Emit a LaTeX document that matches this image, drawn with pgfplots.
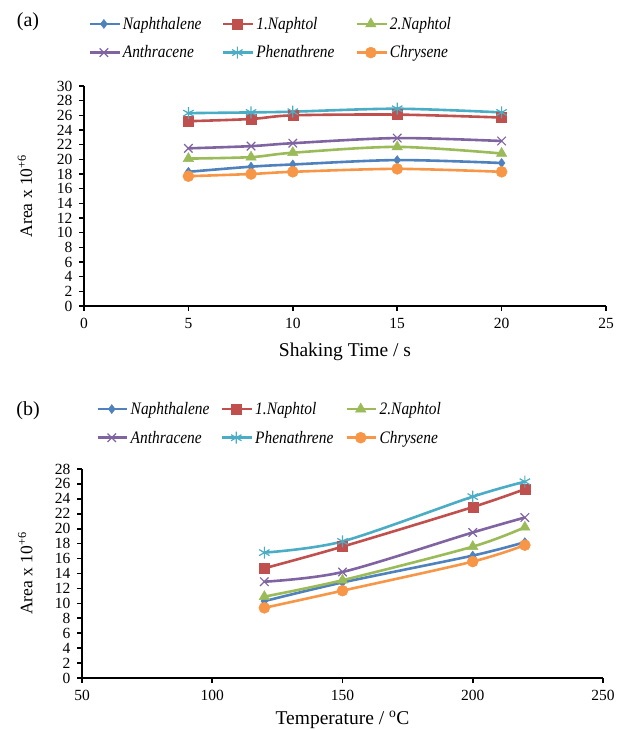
\documentclass[border=0pt]{standalone}
\usepackage{fontspec}
\setmainfont{Liberation Serif}
\newfontfamily\legfont[FakeStretch=0.88]{Liberation Serif}
\usepackage{pgfplots}
\pgfplotsset{compat=1.18}

\definecolor{cNap}{HTML}{4F81BD}
\definecolor{cOne}{HTML}{C0504D}
\definecolor{cTwo}{HTML}{9BBB59}
\definecolor{cAnt}{HTML}{8064A2}
\definecolor{cPhe}{HTML}{4BACC6}
\definecolor{cChr}{HTML}{F79646}

\pgfplotsset{
  panel/.style={
    scale only axis,
    axis x line=bottom, axis y line=left,
    axis line style={line width=2pt, -},
    tick style={line width=1.6pt, black},
    tick align=outside, major tick length=5pt,
    /pgf/number format/assume math mode=true,
    tick label style={font=\fontsize{15.5}{15.5}\selectfont},
    xticklabel style={yshift=-4pt},
    yticklabel style={xshift=-3pt},
    xlabel style={font=\fontsize{19.5}{19.5}\selectfont},
    ylabel style={font=\fontsize{17.5}{17.5}\selectfont},
    ytick distance=2,
    legend columns=3,
    legend cell align=left,
    legend style={draw=none, fill=none, inner sep=0pt,
      font=\legfont\fontsize{17.5}{20}\selectfont\itshape,
      row sep=11pt},
    legend image code/.code={\draw[mark repeat=2,mark phase=2]
      plot coordinates {(0cm,0cm)(0.5cm,0cm)(1.05cm,0cm)};},
    every axis plot/.append style={line width=2.6pt, smooth},
  },
  sNap/.style={cNap, mark=diamond*, mark size=4.5pt, mark options={solid,line width=0.5pt}},
  sOne/.style={cOne, mark=square*, mark size=5pt, mark options={solid,line width=0.5pt}},
  sTwo/.style={cTwo, mark=triangle*, mark size=6pt, mark options={solid,line width=0.5pt}},
  sAnt/.style={cAnt, mark=x, mark size=6pt, mark options={solid,line width=1.2pt}},
  sPhe/.style={cPhe, mark=asterisk, mark size=6pt, mark options={solid,line width=1.2pt}},
  sChr/.style={cChr, mark=*, mark size=5.5pt, mark options={solid,line width=0.5pt}},
}

\begin{document}
\begin{tikzpicture}
\useasboundingbox (0,0) rectangle (616pt,-730pt);
\node[font=\fontsize{20}{20}\selectfont] at (28pt,-22pt) {(a)};
\node[font=\fontsize{20}{20}\selectfont] at (28pt,-411pt) {(b)};

\begin{axis}[panel,
  at={(84pt,-306pt)}, anchor=south west,
  width=522pt, height=220pt,
  xmin=0, xmax=25, ymin=0, ymax=30,
  xtick={0,5,...,25},
  xlabel={Shaking Time / s},
  ylabel={Area x 10\textsuperscript{+6}},
  xlabel style={at={(axis description cs:0.5,-0.21)}, anchor=center},
  ylabel style={at={(axis description cs:-0.113,0.5)}, anchor=center},
  legend style={at={(axis description cs:0.008,1.323)}, anchor=north west,
    /tikz/every even column/.append style={column sep=10pt, text width=87pt}},
]
\addplot[sNap] coordinates {(5,18.3) (8,19.0) (10,19.3) (15,19.9) (20,19.5)};
\addplot[sOne] coordinates {(5,25.2) (8,25.5) (10,26.0) (15,26.1) (20,25.7)};
\addplot[sTwo] coordinates {(5,20.1) (8,20.3) (10,20.9) (15,21.7) (20,20.8)};
\addplot[sAnt] coordinates {(5,21.5) (8,21.8) (10,22.2) (15,22.9) (20,22.5)};
\addplot[sPhe] coordinates {(5,26.3) (8,26.4) (10,26.5) (15,26.9) (20,26.4)};
\addplot[sChr] coordinates {(5,17.7) (8,18.0) (10,18.3) (15,18.7) (20,18.3)};
\legend{Naphthalene,1.Naphtol,2.Naphtol,Anthracene,Phenathrene,Chrysene}
\end{axis}

\begin{axis}[panel,
  at={(82pt,-678pt)}, anchor=south west,
  width=521pt, height=209pt,
  xmin=50, xmax=250, ymin=0, ymax=28,
  xtick={50,100,...,250},
  xlabel={Temperature / \textsuperscript{o}C},
  ylabel={Area x 10\textsuperscript{+6}},
  xlabel style={at={(axis description cs:0.5,-0.2)}, anchor=center},
  ylabel style={at={(axis description cs:-0.109,0.5)}, anchor=center},
  legend style={at={(axis description cs:0.027,1.33)}, anchor=north west,
    /tikz/every even column/.append style={column sep=8pt, text width=80pt},
    /tikz/every odd column/.append style={inner xsep=6pt}},
]
\addplot[sNap] coordinates {(120,10.3) (150,12.8) (200,16.4) (220,18.2)};
\addplot[sOne] coordinates {(120,14.7) (150,17.6) (200,22.9) (220,25.3)};
\addplot[sTwo] coordinates {(120,10.9) (150,13.1) (200,17.6) (220,20.2)};
\addplot[sAnt] coordinates {(120,12.9) (150,14.2) (200,19.5) (220,21.5)};
\addplot[sPhe] coordinates {(120,16.8) (150,18.3) (200,24.3) (220,26.3)};
\addplot[sChr] coordinates {(120,9.4) (150,11.7) (200,15.6) (220,17.8)};
\legend{Naphthalene,1.Naphtol,2.Naphtol,Anthracene,Phenathrene,Chrysene}
\end{axis}
\end{tikzpicture}
\end{document}
